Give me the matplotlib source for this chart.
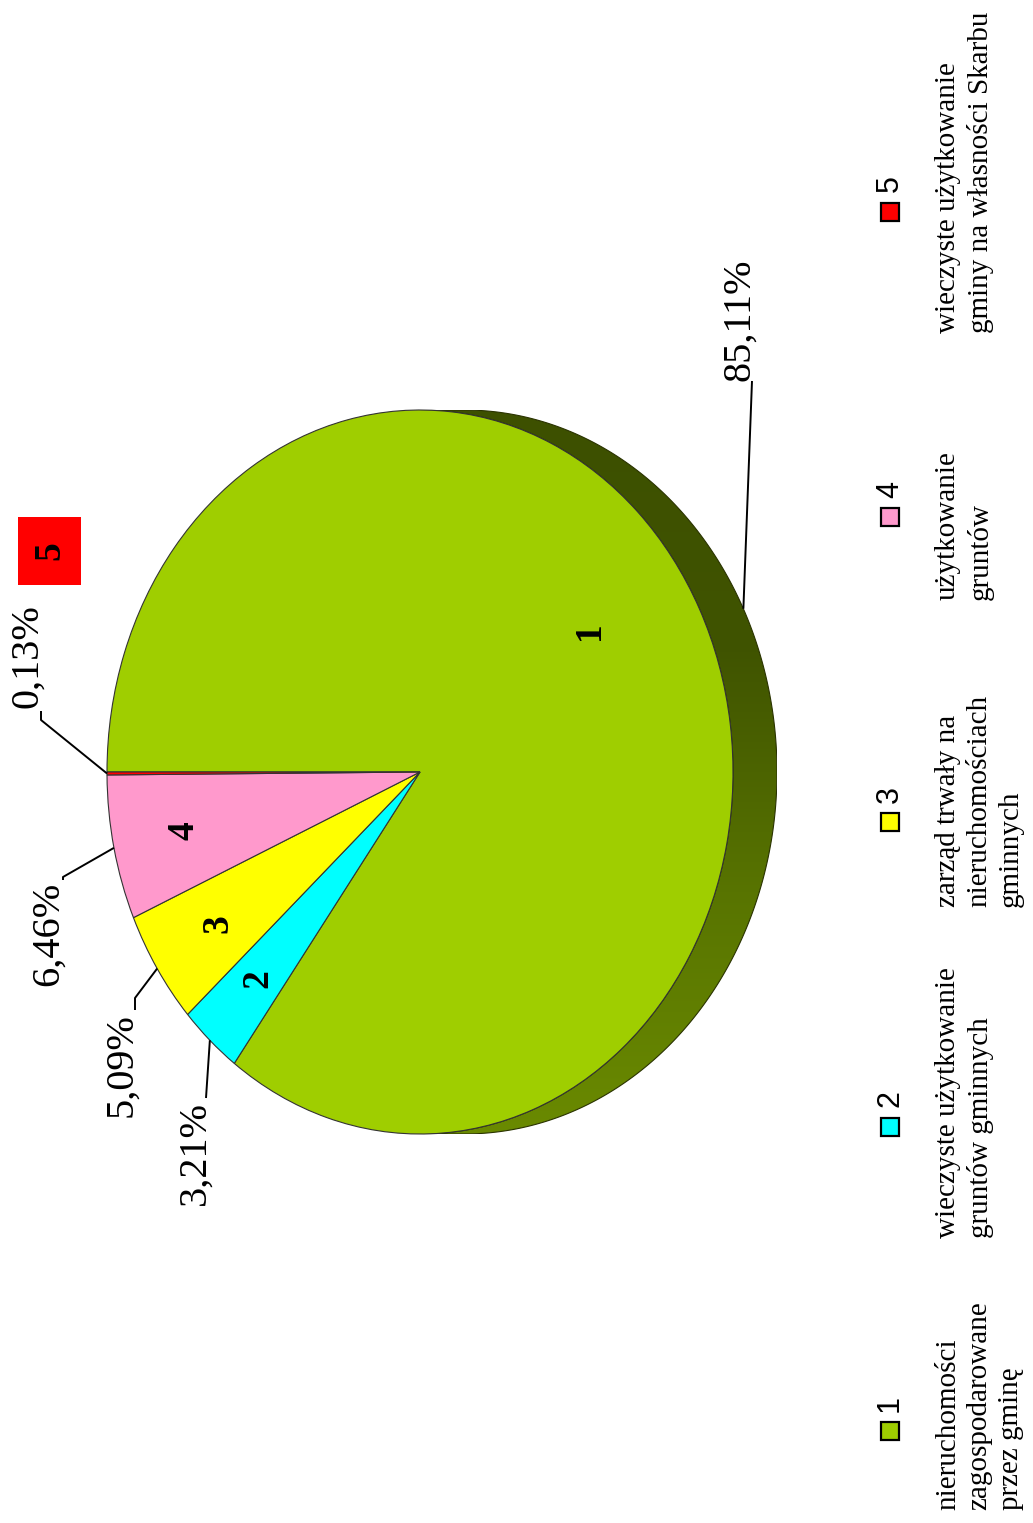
import numpy as np
import matplotlib.pyplot as plt
from matplotlib.patches import Polygon, Rectangle
from matplotlib.colors import LinearSegmentedColormap

W, H = 1033, 1523
DPI = 100

# dane do wykresu
kategorie = ['1', '2', '3', '4', '5']
udzialy = [85.11, 3.21, 5.09, 6.46, 0.13]
kolory = ['#9fce00', '#00ffff', '#ffff00', '#ff99cc', '#ff0000']
opisy = ['nieruchomości\nzagospodarowane\nprzez gminę',
         'wieczyste użytkowanie\ngruntów gminnych',
         'zarząd trwały na\nnieruchomościach\ngminnych',
         'użytkowanie\ngruntów',
         'wieczyste użytkowanie\ngminy na własności Skarbu']

SERIF = 'Liberation Serif'
SANS = 'Liberation Sans'

fig = plt.figure(figsize=(W / DPI, H / DPI), dpi=DPI)

# kolo (elipsa) - srodek, polosie i grubosc boku w pikselach
cx, cy, rx, ry, gl = 420, 772, 313, 362, 44
d = gl / rx
ax = fig.add_axes([(cx - rx) / W, (H - cy - ry) / H, (2 * rx + gl) / W, 2 * ry / H])

# bok "3D" - sierp miedzy elipsa przesunieta i oryginalna
t = np.deg2rad(np.linspace(90, -90, 300))
zew = np.column_stack([np.cos(t) + d, np.sin(t)])
wew = np.column_stack([np.cos(t[::-1]), np.sin(t[::-1])])
bok = Polygon(np.vstack([zew, wew]), closed=True, facecolor='none',
              edgecolor='#2a3300', linewidth=0.8, zorder=0.5)
ax.add_patch(bok)
cm_bok = LinearSegmentedColormap.from_list('bok', ['#6a8a00', '#587400', '#405400', '#3d5000'])
grad = np.linspace(0, 1, 256).reshape(-1, 1)
im = ax.imshow(grad, extent=(0, 1 + d, -1, 1), origin='lower', cmap=cm_bok,
               aspect='auto', zorder=0.4)
im.set_clip_path(bok)

wedges, _ = ax.pie(udzialy, colors=kolory, startangle=180, counterclock=False,
                   wedgeprops=dict(edgecolor='#333333', linewidth=0.8))
ax.set_aspect('auto')
ax.set_xlim(-1, 1 + d)
ax.set_ylim(-1, 1)
ax.axis('off')

# warstwa na opisy w pikselach
ov = fig.add_axes([0, 0, 1, 1])
ov.set_xlim(0, W)
ov.set_ylim(H, 0)
ov.axis('off')


def do_px(x, y):
    return ov.transData.inverted().transform(ax.transData.transform((x, y)))


# numery wycinkow
for i, w in enumerate(wedges[:4]):
    m = np.deg2rad((w.theta1 + w.theta2) / 2)
    if i == 0:
        px, py = do_px(0.54, 0.39)
    else:
        px, py = do_px(0.77 * np.cos(m), 0.77 * np.sin(m))
    ov.text(px, py, kategorie[i], rotation=90, ha='center', va='center',
            family=SERIF, weight='bold', size=27)

# ramka z numerem najmniejszego wycinka
ov.add_patch(Rectangle((18, 517), 63, 68, facecolor='#ff0000', edgecolor='none'))
ov.text(50, 551, kategorie[4], rotation=90, ha='center', va='center',
        family=SERIF, weight='bold', size=27)

# etykiety procentowe z liniami odniesienia
poz_proc = [(740, 320), (195, 1153), (122, 1065), (48, 934), (28, 656)]
lamania = [[(752, 381)],
           [(206, 1098)],
           [(135, 998), (135, 1010)],
           [(63, 877), (63, 880)],
           [(41, 720), (41, 711)]]
for i, w in enumerate(wedges):
    m = np.deg2rad((w.theta1 + w.theta2) / 2)
    x0, y0 = np.cos(m), np.sin(m)
    if i == 0:
        x0 += d
    ax0 = do_px(x0, y0)
    pts = np.array([ax0] + lamania[i])
    ov.plot(pts[:, 0], pts[:, 1], color='black', lw=1.4, solid_capstyle='butt')
    etk = f'{udzialy[i]:.2f}%'.replace('.', ',')
    ov.text(poz_proc[i][0], poz_proc[i][1], etk, rotation=90, ha='center',
            va='center', family=SERIF, size=29)

# legenda
kw_y = [1431, 1127, 822, 517, 212]
tekst_y = [1510, 1238, 907, 600, 333]
for i in range(5):
    ov.add_patch(Rectangle((881, kw_y[i] - 9), 18, 18, facecolor=kolory[i],
                           edgecolor='black', linewidth=1.6))
    ov.text(890, kw_y[i] - 28, kategorie[i], rotation=90, ha='center',
            va='center', family=SANS, size=22)
    ov.text(935, tekst_y[i], opisy[i], rotation=90, rotation_mode='anchor',
            ha='left', va='top', family=SERIF, size=21, linespacing=1.27)

fig.savefig('out.png', dpi=DPI)
